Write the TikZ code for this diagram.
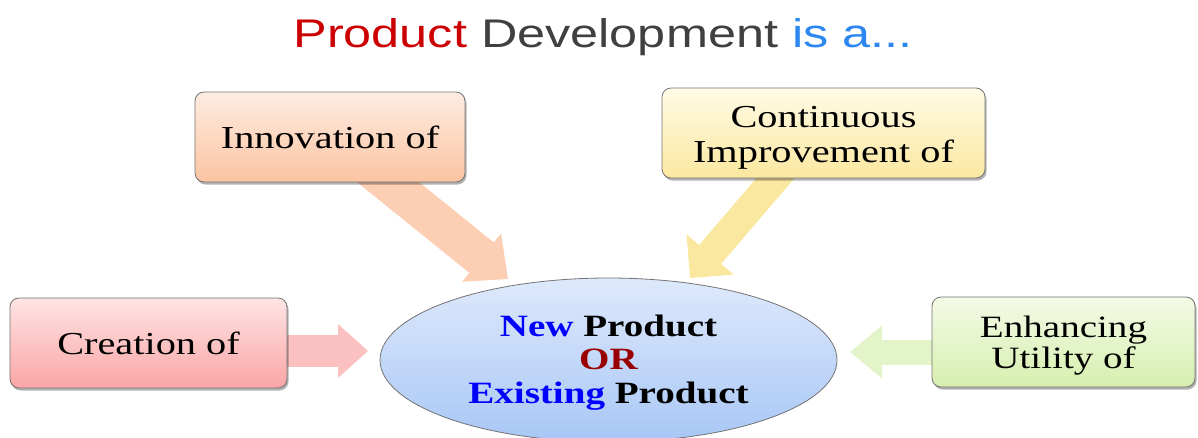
\documentclass[tikz,border=0pt]{standalone}
\usepackage{fontspec}
\setmainfont{Liberation Serif}
\newfontfamily\titlefont{Liberation Sans}
\usetikzlibrary{arrows.meta,shapes.geometric,shadows}
\definecolor{tred}{RGB}{204,0,0}
\definecolor{tgray}{RGB}{64,64,64}
\definecolor{tblue}{RGB}{45,135,240}
\definecolor{nblue}{RGB}{0,0,255}
\definecolor{ored}{RGB}{153,0,0}
\definecolor{innTop}{RGB}{254,236,225}
\definecolor{innBot}{RGB}{251,196,162}
\definecolor{innArr}{RGB}{252,206,180}
\definecolor{conTop}{RGB}{255,251,230}
\definecolor{conBot}{RGB}{251,232,160}
\definecolor{conArr}{RGB}{251,232,160}
\definecolor{creTop}{RGB}{255,228,228}
\definecolor{creBot}{RGB}{250,165,165}
\definecolor{creArr}{RGB}{251,192,192}
\definecolor{enhTop}{RGB}{244,250,231}
\definecolor{enhBot}{RGB}{214,239,174}
\definecolor{enhArr}{RGB}{226,244,200}
\definecolor{ellTop}{RGB}{222,233,251}
\definecolor{ellBot}{RGB}{168,199,246}
\newcommand{\hs}[1]{\scalebox{1.26}[1]{#1}}
\newcommand{\lines}[2]{\raisebox{#1}[\height][\depth]{\begin{tabular}{@{}c@{}}#2\end{tabular}}}
\begin{document}
\begin{tikzpicture}[x=1pt,y=-1pt,
  box/.style={draw=black!55, line width=0.8pt, rounded corners=9pt, inner sep=0pt,
    align=center, font=\fontsize{32}{35}\selectfont,
    drop shadow={shadow xshift=1.5pt, shadow yshift=-2.5pt, opacity=0.3, fill=black}},
  barrow/.style={line cap=butt}]
\useasboundingbox (0,0) rectangle (1198,437);

% title
\node[anchor=base, inner sep=0pt] (title) at (603,47)
  {\titlefont\fontsize{40}{48}\selectfont\hs{\textcolor{tred}{Product} \textcolor{tgray}{Development} \textcolor{tblue}{is a...}}};

% tip coordinates
\coordinate (t1) at (508,279);
\coordinate (t2) at (690,278);
\coordinate (t3) at (368,351);
\coordinate (t4) at (850,352);

% box centres (arrows are drawn beneath the boxes)
\path (330,137) coordinate (innC) (823.5,133) coordinate (conC)
      (148.5,343) coordinate (creC) (1063.5,342) coordinate (enhC);

% arrows
\draw[barrow, innArr, line width=39pt, -{Triangle[length=34pt,width=62pt,line width=0pt]}]
  ([xshift=22pt,yshift=-16pt]innC) -- (t1);
\draw[barrow, conArr, line width=29pt, -{Triangle[length=31pt,width=62pt,line width=0pt]}]
  ([xshift=-18pt,yshift=-10pt]conC) -- (t2);
\draw[barrow, creArr, line width=32pt, -{Triangle[length=30pt,width=54pt,line width=0pt]}]
  ([yshift=-8pt]creC) -- (t3);
\draw[barrow, enhArr, line width=25pt, -{Triangle[length=32pt,width=53pt,line width=0pt]}]
  ([yshift=-10pt]enhC) -- (t4);

% boxes
\node[box, minimum width=270pt, minimum height=90pt, top color=innTop, bottom color=innBot]
  (innov) at (innC) {\hs{Innovation of}};
\node[box, minimum width=323pt, minimum height=90pt, top color=conTop, bottom color=conBot]
  (cont) at (conC) {\lines{-5pt}{\hs{Continuous}\\\hs{Improvement of}}};
\node[box, minimum width=277pt, minimum height=90pt, top color=creTop, bottom color=creBot]
  (creat) at (creC) {\hs{Creation of}};
\node[box, minimum width=263pt, minimum height=90pt, top color=enhTop, bottom color=enhBot,
  font=\fontsize{31}{31}\selectfont]
  (enh) at (enhC) {\lines{-5pt}{\hs{Enhancing}\\\hs{Utility of}}};

% ellipse
\node[ellipse, draw=black!55, line width=0.8pt, inner sep=0pt,
  minimum width=457pt, minimum height=164pt, top color=ellTop, bottom color=ellBot,
  align=center, font=\fontsize{31}{33.5}\selectfont\bfseries]
  (prod) at (608.5,360)
  {\lines{-3pt}{\hs{\textcolor{nblue}{New} Product}\\\hs{\textcolor{ored}{OR}}\\\hs{\textcolor{nblue}{Existing} Product}}};
\end{tikzpicture}
\end{document}
